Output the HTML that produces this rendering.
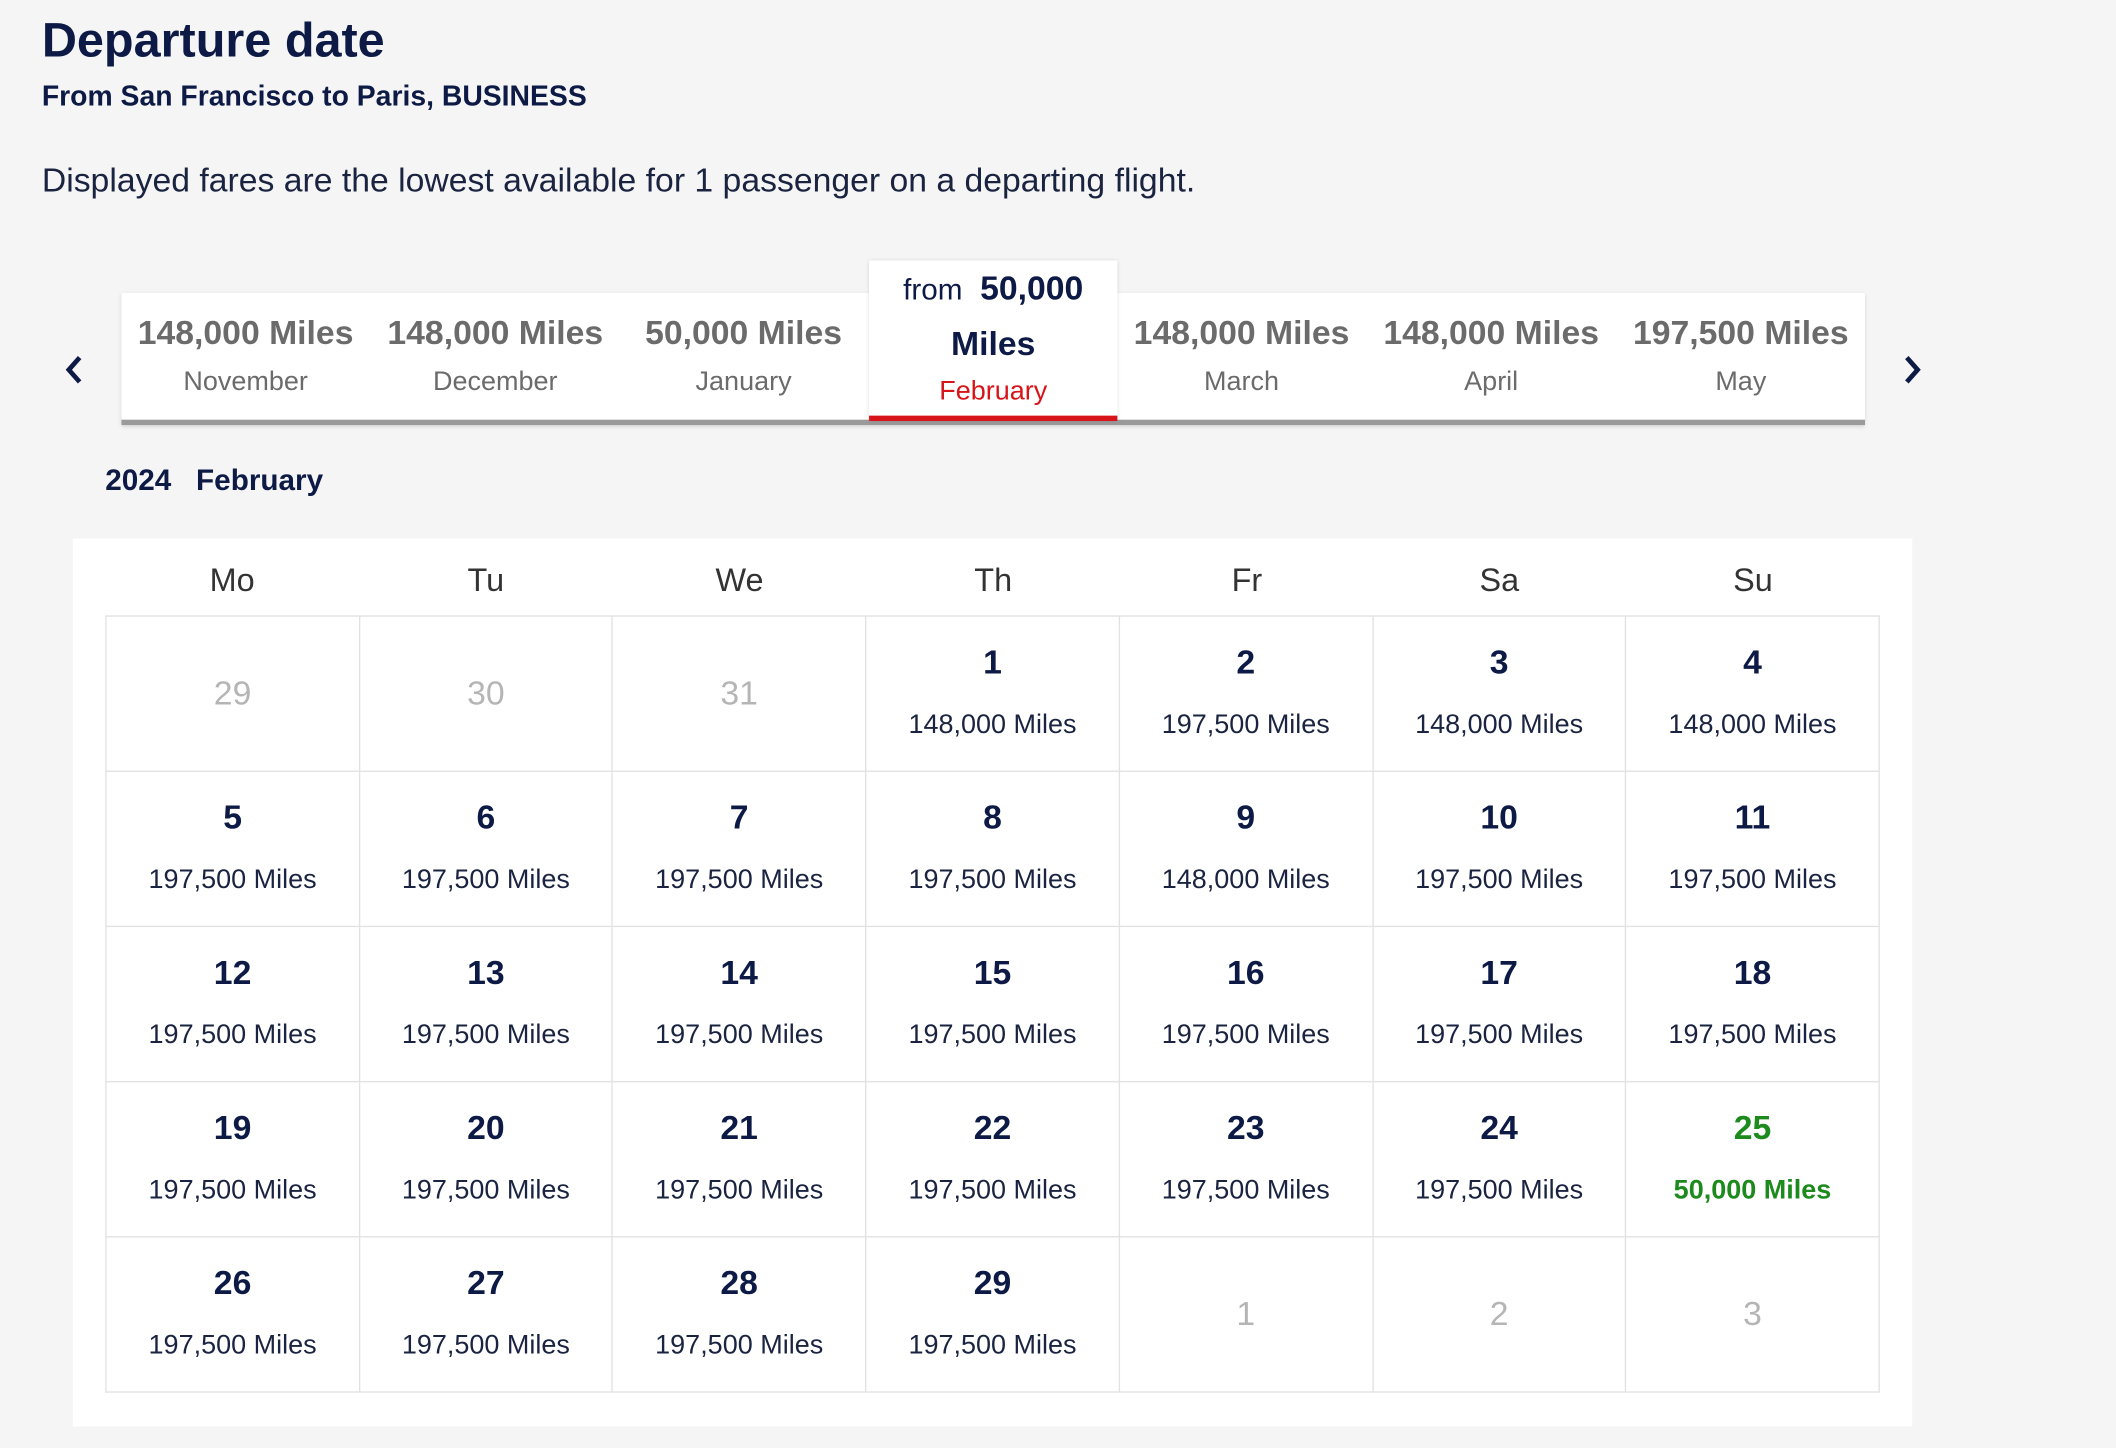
<!DOCTYPE html>
<html><head><meta charset="utf-8">
<style>
html,body{margin:0;padding:0;width:2116px;height:1448px;overflow:hidden;background:#f5f5f5;}
#w{position:absolute;left:0;top:0;width:1568px;height:1073px;transform:scale(1.34949);transform-origin:0 0;font-family:"Liberation Sans",sans-serif;color:#0c1a45;}
.a{position:absolute;white-space:nowrap;}
.strip{position:absolute;left:90px;top:217px;width:1292px;height:94px;background:#fff;border-bottom:4px solid #9a9a9a;box-shadow:0 1px 3px rgba(0,0,0,.15);}
.sel{position:absolute;left:644px;top:193px;width:184px;height:115px;background:#fff;border-bottom:4px solid #d7141a;box-shadow:0 0 3px rgba(0,0,0,.12);}
.m{position:absolute;width:184px;text-align:center;}
.m .p{font-weight:bold;font-size:25px;color:#6b6b6b;margin-top:16px;}
.m .n{font-size:20px;color:#6b6b6b;margin-top:10px;}
.panel{position:absolute;left:54px;top:399px;width:1363px;height:658px;background:#fff;}
table{position:absolute;left:78px;top:456px;border-collapse:collapse;table-layout:fixed;width:1315px;}
td{height:114px;border:1.5px solid #e2e2e2;text-align:center;vertical-align:top;padding:0;}
td b{display:block;font-size:25px;margin-top:20px;color:#0c1a45;}
td span{display:block;font-size:20px;margin-top:20px;color:#1a2340;}
td.g{color:#b5b5b5;font-size:25px;vertical-align:middle;}
td.gr b,td.gr span{color:#1d8a1d;font-weight:bold;}
.h{position:absolute;top:417px;width:188px;text-align:center;font-size:24px;color:#333;}
</style></head><body><div id="w">
<div class="a" style="left:31px;top:9px;font-size:36px;font-weight:bold;">Departure date</div>
<div class="a" style="left:31px;top:60px;font-size:21px;font-weight:bold;">From San Francisco to Paris, BUSINESS</div>
<div class="a" style="left:31px;top:120px;font-size:25px;color:#1a2340;">Displayed fares are the lowest available for 1 passenger on a departing flight.</div>

<div class="strip"></div>
<div class="sel"></div>
<svg class="a" style="left:46px;top:262px" width="18" height="24"><polyline points="13,3 5,12 13,21" fill="none" stroke="#0c1a45" stroke-width="3.5"/></svg>
<svg class="a" style="left:1408px;top:262px" width="18" height="24"><polyline points="5,3 13,12 5,21" fill="none" stroke="#0c1a45" stroke-width="3.5"/></svg>
<div class="m" style="left:90px;top:217px"><div class="p">148,000 Miles</div><div class="n">November</div></div>
<div class="m" style="left:275px;top:217px"><div class="p">148,000 Miles</div><div class="n">December</div></div>
<div class="m" style="left:459px;top:217px"><div class="p">50,000 Miles</div><div class="n">January</div></div>
<div class="m" style="left:644px;top:193px">
 <div style="margin-top:7px;font-size:22px;color:#0c1a45;">from <b style="font-size:25px">&nbsp;50,000</b></div>
 <div style="font-weight:bold;font-size:25px;margin-top:12px;">Miles</div>
 <div style="font-size:20px;color:#d7141a;margin-top:9px;">February</div></div>
<div class="m" style="left:828px;top:217px"><div class="p">148,000 Miles</div><div class="n">March</div></div>
<div class="m" style="left:1013px;top:217px"><div class="p">148,000 Miles</div><div class="n">April</div></div>
<div class="m" style="left:1198px;top:217px"><div class="p">197,500 Miles</div><div class="n">May</div></div>

<div class="a" style="left:78px;top:343px;font-size:22px;font-weight:bold;">2024 &nbsp;&nbsp;February</div>
<div class="panel"></div>
<div class="h" style="left:78px">Mo</div><div class="h" style="left:266px">Tu</div><div class="h" style="left:454px">We</div><div class="h" style="left:642px">Th</div><div class="h" style="left:830px">Fr</div><div class="h" style="left:1017px">Sa</div><div class="h" style="left:1205px">Su</div>
<table>
<tr><td class="g">29</td><td class="g">30</td><td class="g">31</td>
<td><b>1</b><span>148,000 Miles</span></td><td><b>2</b><span>197,500 Miles</span></td><td><b>3</b><span>148,000 Miles</span></td><td><b>4</b><span>148,000 Miles</span></td></tr>
<tr><td><b>5</b><span>197,500 Miles</span></td><td><b>6</b><span>197,500 Miles</span></td><td><b>7</b><span>197,500 Miles</span></td><td><b>8</b><span>197,500 Miles</span></td><td><b>9</b><span>148,000 Miles</span></td><td><b>10</b><span>197,500 Miles</span></td><td><b>11</b><span>197,500 Miles</span></td></tr>
<tr><td><b>12</b><span>197,500 Miles</span></td><td><b>13</b><span>197,500 Miles</span></td><td><b>14</b><span>197,500 Miles</span></td><td><b>15</b><span>197,500 Miles</span></td><td><b>16</b><span>197,500 Miles</span></td><td><b>17</b><span>197,500 Miles</span></td><td><b>18</b><span>197,500 Miles</span></td></tr>
<tr><td><b>19</b><span>197,500 Miles</span></td><td><b>20</b><span>197,500 Miles</span></td><td><b>21</b><span>197,500 Miles</span></td><td><b>22</b><span>197,500 Miles</span></td><td><b>23</b><span>197,500 Miles</span></td><td><b>24</b><span>197,500 Miles</span></td><td class="gr"><b>25</b><span>50,000 Miles</span></td></tr>
<tr><td><b>26</b><span>197,500 Miles</span></td><td><b>27</b><span>197,500 Miles</span></td><td><b>28</b><span>197,500 Miles</span></td><td><b>29</b><span>197,500 Miles</span></td><td class="g">1</td><td class="g">2</td><td class="g">3</td></tr>
</table>
</div></body></html>
